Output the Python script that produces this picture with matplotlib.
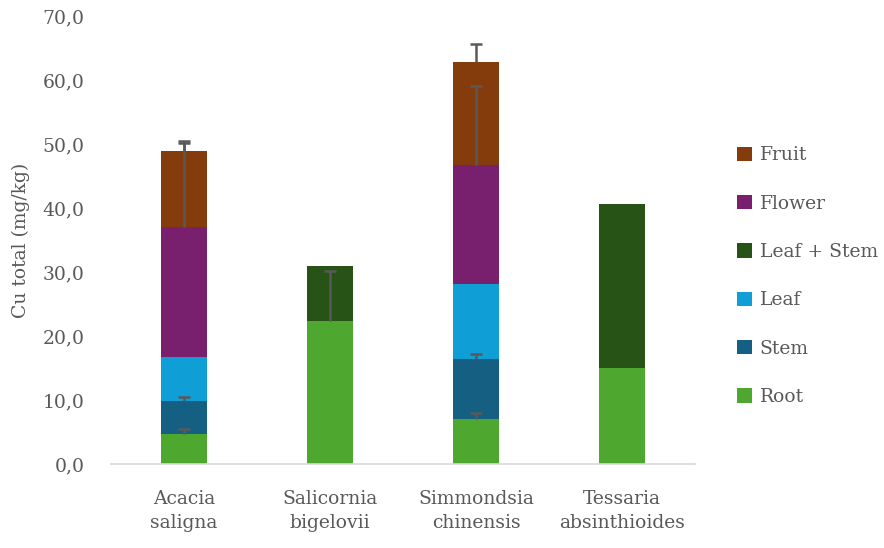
import matplotlib.pyplot as plt
import numpy as np

plt.rcParams['font.family'] = ['DejaVu Serif']

species = ["Acacia\nsaligna", "Salicornia\nbigelovii", "Simmondsia\nchinensis", "Tessaria\nabsinthioides"]

# stacked from the bottom up
parts = ["Root", "Stem", "Leaf", "Leaf + Stem", "Flower", "Fruit"]
root = [4.7, 22.3, 7.0, 15.0]
stem = [5.1, 0, 9.4, 0]
leaf = [6.9, 0, 11.8, 0]
leaf_stem = [0, 8.6, 0, 25.6]
flower = [20.3, 0, 18.5, 0]
fruit = [11.9, 0, 16.1, 0]

# upper error per part (only the plus side is shown)
root_err = [0.8, 7.9, 1.0, 0]
stem_err = [0.7, 0, 0.8, 0]
leaf_err = [0, 0, 0, 0]
leaf_stem_err = [0, 0, 0, 0]
flower_err = [13.1, 0, 12.3, 0]
fruit_err = [1.6, 0, 2.8, 0]

colors = ["#4EA72E", "#155F82", "#0F9ED5", "#275317", "#78206E", "#843C0C"]

values = [root, stem, leaf, leaf_stem, flower, fruit]
errors = [root_err, stem_err, leaf_err, leaf_stem_err, flower_err, fruit_err]

fig = plt.figure(figsize=(8.84, 5.48), dpi=100)
ax = fig.add_axes([0.1256, 0.1533, 0.6605, 0.8175])

x = np.arange(len(species))
bottom = np.zeros(len(species))
handles = []
for name, vals, col in zip(parts, values, colors):
    vals = np.array(vals, dtype=float)
    b = ax.bar(x, vals, width=0.315, bottom=bottom, color=col, label=name,
               edgecolor="none", zorder=2)
    handles.append(b)
    bottom = bottom + vals

# plus-only error bars sitting on each segment top
cap = 0.04
bottom = np.zeros(len(species))
for vals, errs in zip(values, errors):
    vals = np.array(vals, dtype=float)
    top = bottom + vals
    for i in range(len(species)):
        if errs[i] > 0:
            ax.vlines(x[i], top[i], top[i] + errs[i], color="#595959",
                      linewidth=1.8, zorder=4)
            ax.hlines(top[i] + errs[i], x[i] - cap, x[i] + cap,
                      color="#595959", linewidth=1.8, zorder=4)
    bottom = top

ax.set_xlim(-0.5, 3.5)
ax.set_ylim(0, 70)
ax.set_yticks(np.arange(0, 71, 10))
ax.set_yticklabels([f"{v:.1f}".replace(".", ",") for v in np.arange(0, 71, 10)])
ax.set_xticks(x)
ax.set_xticklabels(species, linespacing=1.4)

for s in ["top", "right", "left"]:
    ax.spines[s].set_visible(False)
ax.spines["bottom"].set_color("#D9D9D9")
ax.spines["bottom"].set_linewidth(1.2)
ax.tick_params(axis="both", length=0, labelsize=13.5, labelcolor="#595959")
ax.tick_params(axis="y", pad=19)
ax.tick_params(axis="x", pad=19)

ax.set_ylabel("Cu total (mg/kg)", fontsize=13.5, color="#595959", labelpad=9)

leg = fig.legend(handles[::-1], parts[::-1], loc="center left",
                 bbox_to_anchor=(0.815, 0.496), frameon=False, fontsize=13.5,
                 handlelength=0.8, handleheight=0.8, handletextpad=0.4,
                 labelspacing=1.62, labelcolor="#595959")

fig.savefig("out.png", dpi=100)
